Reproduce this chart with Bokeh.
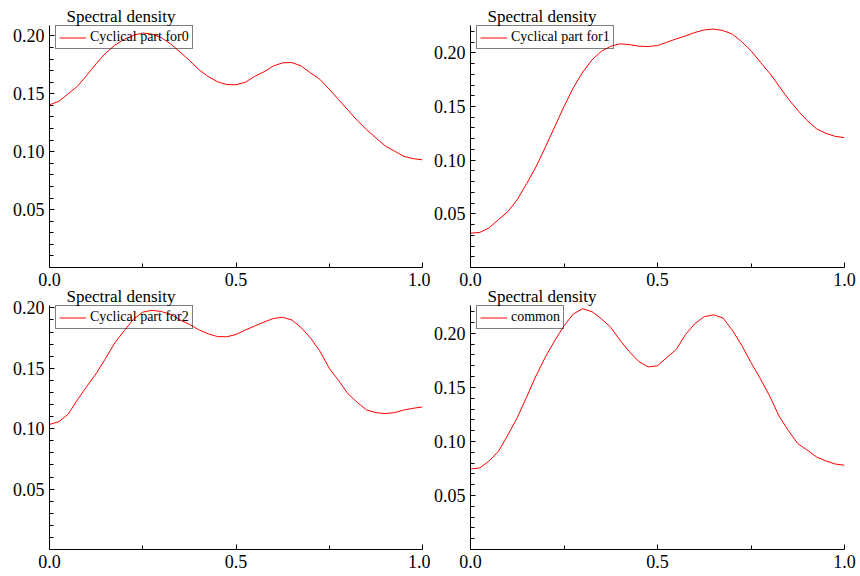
from bokeh.plotting import figure
from bokeh.models import FixedTicker, Range1d, PrintfTickFormatter
from bokeh.layouts import column, row
from bokeh.embed import file_html
from bokeh.resources import INLINE

# Normalised frequency grid
freq = [0.000, 0.025, 0.050, 0.075, 0.100, 0.125, 0.150, 0.175, 0.200, 0.225,
        0.250, 0.275, 0.300, 0.325, 0.350, 0.375, 0.400, 0.425, 0.450, 0.475,
        0.500, 0.525, 0.550, 0.575, 0.600, 0.625, 0.650, 0.675, 0.700, 0.725,
        0.750, 0.775, 0.800, 0.825, 0.850, 0.875, 0.900, 0.925, 0.950, 0.975, 1.000]

# Spectral density of each cyclical component and of the common part
cyc0 = [0.1405, 0.1435, 0.1500, 0.1565, 0.1660, 0.1760, 0.1850, 0.1920, 0.1970, 0.2005,
        0.2025, 0.2015, 0.1985, 0.1930, 0.1860, 0.1790, 0.1710, 0.1650, 0.1605, 0.1580,
        0.1578, 0.1600, 0.1650, 0.1690, 0.1740, 0.1768, 0.1770, 0.1740, 0.1680, 0.1625,
        0.1540, 0.1450, 0.1360, 0.1270, 0.1190, 0.1120, 0.1050, 0.1005, 0.0960, 0.0940, 0.0930]
cyc1 = [0.0320, 0.0327, 0.0370, 0.0447, 0.0520, 0.0633, 0.0780, 0.0937, 0.1120, 0.1310,
        0.1500, 0.1675, 0.1820, 0.1935, 0.2015, 0.2062, 0.2084, 0.2077, 0.2062, 0.2059,
        0.2068, 0.2099, 0.2130, 0.2158, 0.2190, 0.2214, 0.2222, 0.2208, 0.2175, 0.2105,
        0.2020, 0.1913, 0.1810, 0.1690, 0.1570, 0.1464, 0.1370, 0.1293, 0.1250, 0.1222, 0.1210]
cyc2 = [0.1035, 0.1058, 0.1120, 0.1240, 0.1350, 0.1456, 0.1580, 0.1710, 0.1810, 0.1906,
        0.1965, 0.1980, 0.1970, 0.1947, 0.1900, 0.1864, 0.1820, 0.1786, 0.1763, 0.1761,
        0.1780, 0.1817, 0.1850, 0.1883, 0.1912, 0.1922, 0.1900, 0.1836, 0.1750, 0.1642,
        0.1500, 0.1400, 0.1290, 0.1218, 0.1155, 0.1133, 0.1125, 0.1133, 0.1155, 0.1169, 0.1180]
common = [0.0745, 0.0755, 0.0820, 0.0910, 0.1060, 0.1220, 0.1410, 0.1606, 0.1780, 0.1932,
          0.2070, 0.2180, 0.2228, 0.2201, 0.2135, 0.2056, 0.1935, 0.1830, 0.1740, 0.1690,
          0.1700, 0.1777, 0.1850, 0.1990, 0.2090, 0.2155, 0.2172, 0.2143, 0.2030, 0.1890,
          0.1730, 0.1580, 0.1420, 0.1235, 0.1100, 0.0980, 0.0920, 0.0857, 0.0820, 0.0791, 0.0780]

panel_title = "Spectral density"
series_labels = ["Cyclical part for0", "Cyclical part for1", "Cyclical part for2", "common"]

x_ticks = [0.0, 0.5, 1.0]
x_minor = [0.25, 0.75]
y_ticks = [0.05, 0.10, 0.15, 0.20]
y_minor = [round(0.01 * i, 2) for i in range(1, 23)]

FONT = "Liberation Serif"


def panel(xs, ys, label, ytop, h, bl, br, bt, bb, fh, transparent=False):
    p = figure(width=430, height=h, output_backend="svg", toolbar_location=None,
               x_range=Range1d(0, 1), y_range=Range1d(0, ytop),
               min_border_left=bl, min_border_right=br,
               min_border_top=bt, min_border_bottom=bb)
    p.outline_line_color = None
    p.xgrid.visible = False
    p.ygrid.visible = False
    p.background_fill_color = "white"
    p.border_fill_color = None if transparent else "white"

    p.title.text = panel_title
    p.title.text_font = FONT
    p.title.text_font_size = "17px"
    p.title.text_font_style = "normal"
    p.title.text_color = "black"
    p.title.align = "left"
    p.title.offset = 17
    p.title.standoff = 0

    p.line(xs, ys, line_color="#ff0000", line_width=1, legend_label=label)

    p.xaxis.ticker = FixedTicker(ticks=x_ticks, minor_ticks=x_minor)
    p.yaxis.ticker = FixedTicker(ticks=y_ticks, minor_ticks=y_minor)
    p.xaxis.formatter = PrintfTickFormatter(format="%.1f")
    p.yaxis.formatter = PrintfTickFormatter(format="%.2f")
    for ax in (p.xaxis[0], p.yaxis[0]):
        ax.axis_line_color = "black"
        ax.major_tick_line_color = "black"
        ax.minor_tick_line_color = "black"
        ax.major_tick_in = 5
        ax.major_tick_out = 0
        ax.minor_tick_in = 4
        ax.minor_tick_out = 0
        ax.major_label_text_font = FONT
        ax.major_label_text_font_size = "18px"
        ax.major_label_text_color = "black"
    p.xaxis.major_label_standoff = 5
    p.yaxis.major_label_standoff = 5

    # see-through legend box near the top-left corner of the frame
    lg = p.legend[0]
    lg.label_text_font = FONT
    lg.label_text_font_size = "14px"
    lg.label_text_color = "black"
    lg.border_line_color = "black"
    lg.border_line_width = 1
    lg.background_fill_alpha = 0.0
    lg.padding = 3
    lg.margin = 0
    lg.spacing = 0
    lg.glyph_width = 27
    lg.glyph_height = 15
    lg.label_height = 15
    lg.label_standoff = 4
    lg.location = (6, fh - 3 - 21)
    return p


p1 = panel(freq, cyc0, series_labels[0], 0.209, 288, 49, 8, 25, 21, 242)
p2 = panel(freq, cyc1, series_labels[1], 0.2255, 288, 40, 16, 25, 21, 242)
p3 = panel(freq, cyc2, series_labels[2], 0.202, 292, 49, 8, 21, 27, 244, transparent=True)
p4 = panel(freq, common, series_labels[3], 0.2258, 292, 40, 16, 21, 27, 244, transparent=True)

# the lower row's title strip tucks under the upper row's tick labels
top = row(p1, p2, spacing=0)
bottom = row(p3, p4, spacing=0, margin=(-4, 0, 0, 0))
layout = column(top, bottom, spacing=0)
open("out.html", "w").write(file_html(layout, INLINE))
